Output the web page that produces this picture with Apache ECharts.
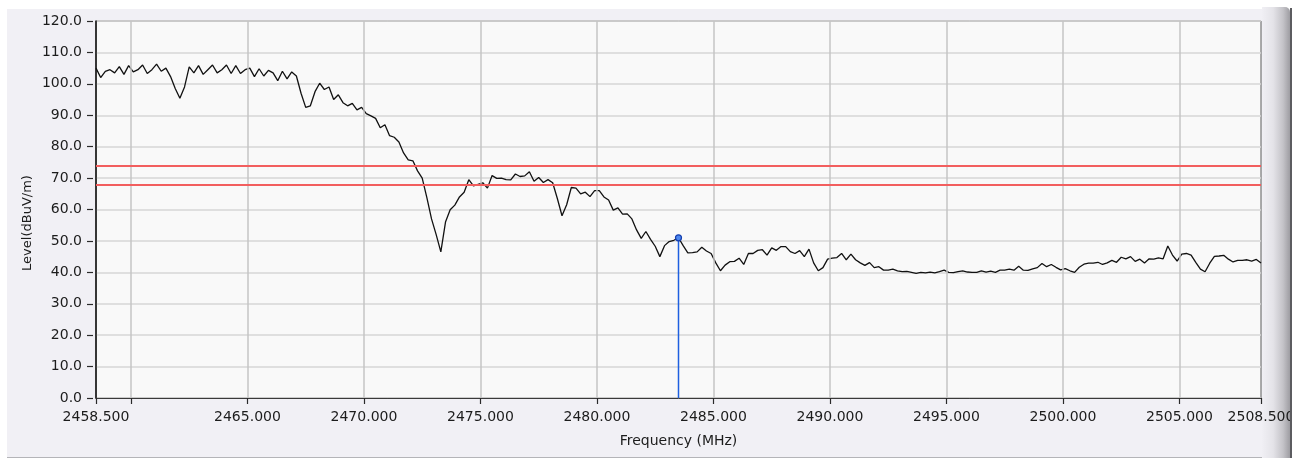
<!DOCTYPE html>
<html>
<head>
<meta charset="utf-8">
<title>Spectrum trace</title>
<script src="https://cdn.jsdelivr.net/npm/echarts@6/dist/echarts.min.js"></script>
<style>
  html, body { margin: 0; padding: 0; background: #ffffff; }
  #panel {
    position: absolute; left: 7px; top: 9px; width: 1283px; height: 448px;
    background: #f1f0f5; border-bottom: 1px solid #b4b4b8;
  }
  #edge {
    position: absolute; left: 1262px; top: 7px; width: 28px; height: 451px;
    background: linear-gradient(to right, #f0eff4 0%, #e4e3e8 40%, #c4c3c8 75%, #9e9da2 100%);
    border-top-right-radius: 5px;
  }
  #rim {
    position: absolute; left: 1290px; top: 8px; width: 2px; height: 450px;
    background: #5c5c60;
  }
  #chart {
    position: absolute; left: 0; top: 0; width: 1291px; height: 459px; overflow: hidden;
  }
</style>
</head>
<body>
<div id="panel"></div>
<div id="edge"></div>
<div id="chart"></div>
<div id="rim"></div>
<script>
// Sweep settings (MHz)
const freqStart = 2458.5;
const freqStop = 2508.5;
const freqStep = 0.2;

// Measured level for each sweep point, dBuV/m
const levels = [
  105.0, 102.0, 104.0, 104.5, 103.5, 105.5, 103.0, 105.8, 103.8, 104.5,
  106.0, 103.3, 104.5, 106.3, 104.0, 105.0, 102.3, 98.5, 95.4, 99.0,
  105.4, 103.5, 105.8, 103.0, 104.5, 106.0, 103.5, 104.5, 106.0, 103.3,
  105.8, 103.3, 104.5, 105.0, 102.3, 104.8, 102.5, 104.3, 103.5, 101.0,
  104.0, 101.6, 103.8, 102.5, 97.0, 92.5, 93.0, 97.5, 100.2, 98.2,
  99.0, 95.0, 96.5, 94.0, 93.0, 93.8, 91.7, 92.5, 90.5, 89.8,
  89.0, 86.0, 87.0, 83.5,
  83.0, 81.5, 78.0, 75.8, 75.5, 72.3, 70.0, 63.8, 57.0, 52.0,
  46.5, 56.0, 59.9, 61.4, 64.0, 65.5, 69.5, 67.5, 68.0, 68.5,
  66.8, 70.8, 69.9, 70.0, 69.5, 69.4, 71.3, 70.5, 70.7, 72.0,
  69.0, 70.2, 68.6, 69.5, 68.5, 63.5, 58.0, 61.5, 67.0, 66.8,
  65.0, 65.5, 64.1, 66.0, 66.0, 64.0, 63.0, 59.8, 60.5, 58.5,
  58.6, 57.0, 53.5, 50.8, 53.0, 50.5, 48.3, 45.0, 48.5, 49.8,
  50.2, 51.0, 48.5, 46.2,
  46.3, 46.5, 48.0, 46.8, 46.0, 43.0, 40.5, 42.3, 43.4, 43.5,
  44.5, 42.5, 46.0, 46.0, 47.0, 47.2, 45.5, 47.8, 47.0, 48.2,
  48.2, 46.6, 46.0, 46.9, 45.0, 47.4, 43.0, 40.5, 41.5, 44.2,
  44.5, 44.7, 46.0, 44.0, 45.8, 44.0, 43.0, 42.2, 43.1, 41.5,
  41.8, 40.7, 40.7, 41.0, 40.5, 40.2, 40.3, 40.0, 39.7, 40.0,
  39.8, 40.1, 39.8, 40.2, 40.7, 40.0, 39.9, 40.2, 40.5, 40.1,
  40.0, 40.0, 40.5, 40.1, 40.4, 40.0, 40.7, 40.7, 41.0, 40.7,
  41.9, 40.7, 40.6, 41.1, 41.5, 42.8, 41.8, 42.5, 41.6, 40.8,
  41.2, 40.5, 40.0, 41.6, 42.6, 42.9, 42.9, 43.2, 42.5, 43.0,
  43.8, 43.2, 44.8, 44.3, 45.0, 43.5, 44.2, 43.0, 44.3, 44.2,
  44.6, 44.3, 48.4, 45.5, 43.6, 45.8, 46.0, 45.5, 43.2, 41.0,
  40.2, 42.9, 45.1, 45.2, 45.4, 44.2, 43.3, 43.8, 43.8, 44.0,
  43.6, 44.1, 43.0
];

// Limit lines, dBuV/m
const limits = [74, 68];

// Marker position on the sweep (MHz)
const markerFreq = 2483.5;

// Frequency axis: tick marks, tick labels and vertical grid lines
const xTickValues = [2458.5, 2460, 2465, 2470, 2475, 2480, 2485, 2490, 2495, 2500, 2505, 2508.5];
const xLabelValues = [2458.5, 2465, 2470, 2475, 2480, 2485, 2490, 2495, 2500, 2505, 2508.5];
const xGridValues = [2460, 2465, 2470, 2475, 2480, 2485, 2490, 2495, 2500, 2505];

const trace = levels.map((v, i) => [+(freqStart + i * freqStep).toFixed(3), v]);
const markerIndex = Math.round((markerFreq - freqStart) / freqStep);
const markerLevel = levels[markerIndex];

const FONT = 'DejaVu Sans';
const TXT = '#1c1c1c';

const chart = echarts.init(document.getElementById('chart'), null, { renderer: 'canvas' });

chart.setOption({
  animation: false,
  backgroundColor: 'transparent',
  grid: {
    left: 96, right: 30, top: 21, bottom: 61,
    containLabel: false, outerBoundsMode: 'none',
    show: true, backgroundColor: '#f9f9f9',
    borderColor: '#5a5a5a', borderWidth: 1
  },
  xAxis: [
    {
      type: 'value', min: freqStart, max: freqStop,
      axisLine: { show: true, lineStyle: { color: '#3a3a3a', width: 1 } },
      axisTick: { show: false },
      axisLabel: { show: false },
      splitLine: { show: false },
      name: 'Frequency (MHz)', nameLocation: 'middle', nameGap: 36,
      nameTextStyle: { fontFamily: FONT, fontSize: 14, color: TXT }
    },
    {
      type: 'value', min: freqStart, max: freqStop,
      position: 'bottom', offset: 3,
      axisLine: { show: false },
      axisTick: {
        show: true, length: 6, customValues: xTickValues,
        lineStyle: { color: '#2a2a2a', width: 1.2 }
      },
      axisLabel: {
        margin: 9, fontFamily: FONT, fontSize: 14, color: TXT,
        customValues: xLabelValues,
        formatter: v => v.toFixed(3)
      },
      splitLine: { show: false }
    }
  ],
  yAxis: [
    {
      type: 'value', min: 0, max: 120, interval: 10,
      axisLine: { show: true, lineStyle: { color: '#111111', width: 1.5 } },
      axisTick: { show: false },
      axisLabel: { show: false },
      splitLine: { show: true, lineStyle: { color: '#d6d6d6', width: 1.5 } },
      name: 'Level(dBuV/m)', nameLocation: 'middle', nameGap: 62,
      nameTextStyle: { fontFamily: FONT, fontSize: 13, color: TXT, padding: [0, 27, 0, 0] }
    },
    {
      type: 'value', min: 0, max: 120, interval: 10,
      position: 'left', offset: 3,
      axisLine: { show: false },
      axisTick: { show: true, length: 6, lineStyle: { color: '#2a2a2a', width: 1.2 } },
      axisLabel: {
        margin: 11, fontFamily: FONT, fontSize: 14, color: TXT,
        formatter: v => v.toFixed(1)
      },
      splitLine: { show: false }
    }
  ],
  series: [
    {
      name: 'Grid', type: 'line', data: [], xAxisIndex: 0, yAxisIndex: 0,
      markLine: {
        silent: true, symbol: 'none', label: { show: false },
        lineStyle: { color: '#c4c4c4', width: 1.5, type: 'solid' },
        data: xGridValues.map(v => ({ xAxis: v }))
      },
      z: 1
    },
    {
      name: 'Limits', type: 'line', data: [], xAxisIndex: 0, yAxisIndex: 0,
      markLine: {
        silent: true, symbol: 'none', label: { show: false },
        lineStyle: { color: '#f25e5e', width: 1.8, type: 'solid' },
        data: limits.map(v => ({ yAxis: v }))
      },
      z: 2
    },
    {
      name: 'Level', type: 'line', data: trace, xAxisIndex: 0, yAxisIndex: 0,
      showSymbol: false, symbol: 'none',
      lineStyle: { color: '#111111', width: 1.3 },
      z: 3
    },
    {
      name: 'Marker', type: 'line', xAxisIndex: 0, yAxisIndex: 0,
      data: [
        { value: [markerFreq, 0], symbol: 'none' },
        { value: [markerFreq, markerLevel], symbol: 'circle', symbolSize: 6 }
      ],
      showSymbol: true,
      lineStyle: { color: '#1e5fe0', width: 1.5 },
      itemStyle: { color: '#4d88f0', borderColor: '#163fae', borderWidth: 1.2 },
      z: 4
    }
  ]
});
</script>
</body>
</html>
